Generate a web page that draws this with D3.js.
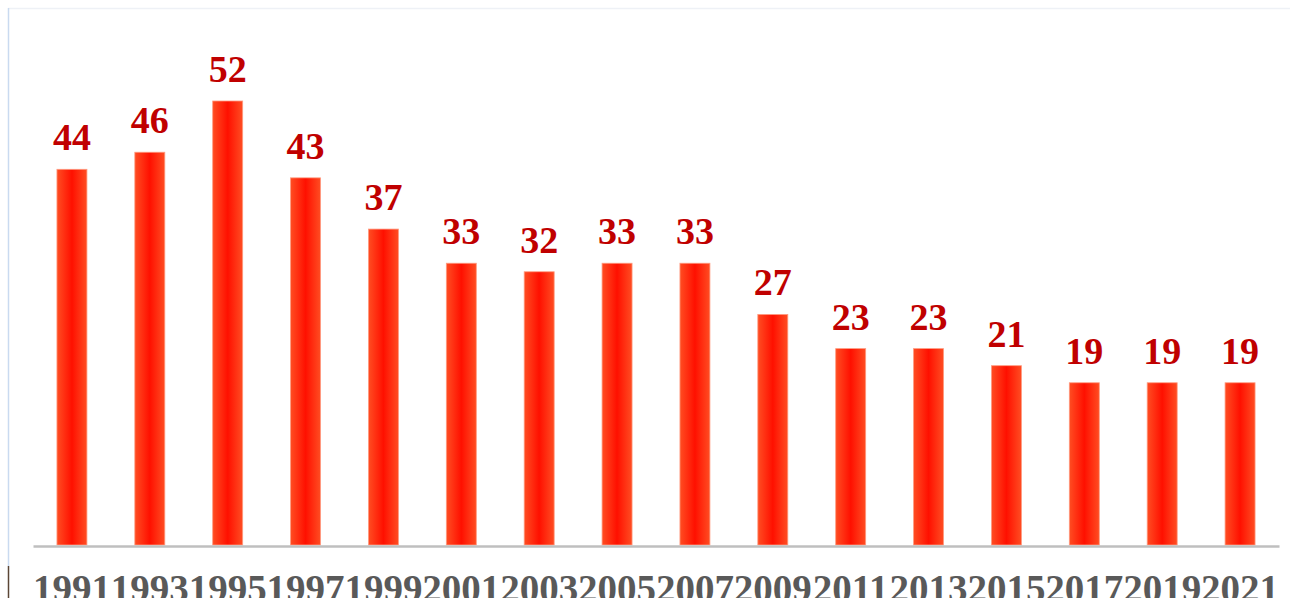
<!DOCTYPE html>
<html><head><meta charset="utf-8">
<script src="https://cdn.jsdelivr.net/npm/d3@7"></script>
<style>html,body{margin:0;padding:0;background:#fff;overflow:hidden}</style>
</head><body>
<svg id="c" width="1293" height="598"></svg>
<script>
const years = ["1991","1993","1995","1997","1999","2001","2003","2005","2007","2009","2011","2013","2015","2017","2019","2021"];
const values = [44,46,52,43,37,33,32,33,33,27,23,23,21,19,19,19];

const svg = d3.select("#c");
const W = 1293, H = 598;

// faint frame
svg.append("line").attr("x1",8).attr("x2",1290).attr("y1",8.5).attr("y2",8.5).attr("stroke","#eef1f6").attr("stroke-width",1.5);
svg.append("line").attr("x1",8.5).attr("x2",8.5).attr("y1",8).attr("y2",566).attr("stroke","#c9daf0").attr("stroke-width",1.5);
svg.append("line").attr("x1",8.5).attr("x2",8.5).attr("y1",566).attr("y2",598).attr("stroke","#5b4636").attr("stroke-width",1.5);

const defs = svg.append("defs");
const g = defs.append("radialGradient").attr("id","barGrad").attr("cx","50%").attr("cy","50%").attr("r","70%");
g.append("stop").attr("offset","0%").attr("stop-color","#ff0d00");
g.append("stop").attr("offset","55%").attr("stop-color","#ff1a00");
g.append("stop").attr("offset","100%").attr("stop-color","#ff5a2a");
const g2 = defs.append("linearGradient").attr("id","barGradH").attr("x1","0").attr("x2","1").attr("y1","0").attr("y2","0");
g2.append("stop").attr("offset","0%").attr("stop-color","#ff4d22");
g2.append("stop").attr("offset","50%").attr("stop-color","#ff1000");
g2.append("stop").attr("offset","100%").attr("stop-color","#ff4d22");

const x = d3.scaleBand().domain(years).range([33, 1279]).paddingInner(0.615).paddingOuter(0.3075);
const y = d3.scaleLinear().domain([0, 52]).range([545, 101]);

svg.append("g").selectAll("rect").data(values).join("rect")
  .attr("x",(d,i)=>x(years[i]))
  .attr("y",d=>y(d))
  .attr("width",x.bandwidth())
  .attr("height",d=>y(0)-y(d))
  .attr("fill","url(#barGradH)")
  .attr("stroke","#ff9a80").attr("stroke-width",0.8);

svg.append("g").selectAll("text").data(values).join("text")
  .attr("x",(d,i)=>x(years[i])+x.bandwidth()/2)
  .attr("y",d=>y(d)-19)
  .attr("text-anchor","middle")
  .attr("font-family","'Liberation Serif','Times New Roman',serif")
  .attr("font-weight","bold")
  .attr("font-size",38)
  .attr("fill","#c00000")
  .text(d=>d);

const ax = svg.append("g").attr("transform","translate(0,546)")
  .call(d3.axisBottom(x).tickSize(0).tickPadding(0));
ax.select(".domain").attr("stroke","#bfbfbf").attr("stroke-width",2.5);
ax.selectAll("text")
  .attr("y",56).attr("dy",0)
  .attr("font-family","'Liberation Serif','Times New Roman',serif")
  .attr("font-weight","bold")
  .attr("font-size",39)
  .attr("fill","#595959");
</script>
</body></html>
